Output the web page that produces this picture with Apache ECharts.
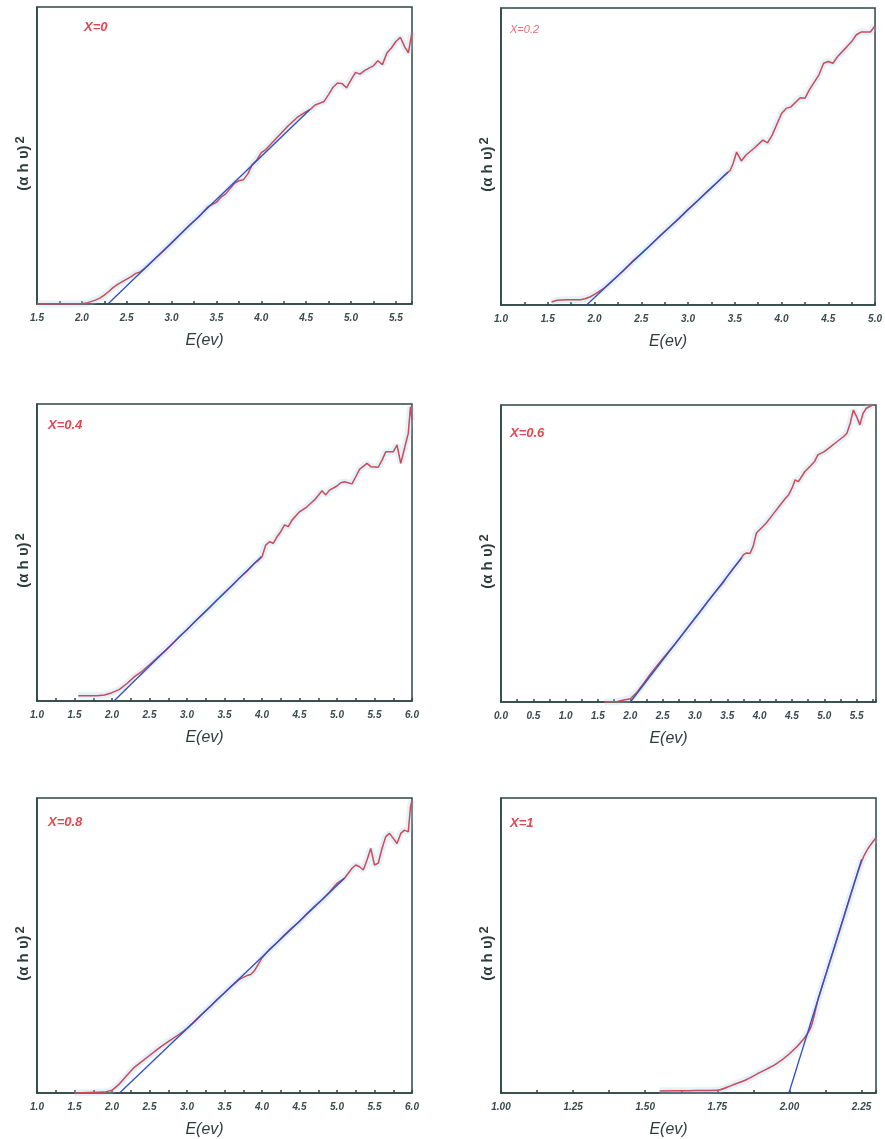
<!DOCTYPE html>
<html>
<head>
<meta charset="utf-8">
<script src="https://cdn.jsdelivr.net/npm/echarts@6/dist/echarts.min.js"></script>
<style>
  html, body { margin: 0; padding: 0; background: #fff; }
  #chart { width: 885px; height: 1139px; }
</style>
</head>
<body>
<div id="chart"></div>
<script>
// panel labels
const panelNames = ['X=0', 'X=0.2', 'X=0.4', 'X=0.6', 'X=0.8', 'X=1']
// x axis range and labelled tick step of each panel
const xMin = [1.5, 1.0, 1.0, 0.0, 1.0, 1.0]
const xMax = [5.68, 5.0, 6.0, 5.8, 6.0, 2.3]
const xStep = [0.5, 0.5, 0.5, 0.5, 0.5, 0.25]

// (ahv)^2, arbitrary units (0 = axis, 100 = top of frame)
const curve0 = [[1.5,0],[1.7,0],[1.9,0],[2.0,0.1],[2.05,0.3],[2.1,0.8],[2.15,1.3],[2.2,2.0],[2.25,3.0],[2.3,4.2],[2.35,5.6],[2.4,6.6],[2.45,7.5],[2.5,8.4],[2.55,9.2],[2.6,10.3],[2.65,10.8],[2.7,12.0],[2.8,14.8],[2.9,17.6],[3.0,20.5],[3.1,23.6],[3.2,26.6],[3.3,29.2],[3.4,32.6],[3.45,33.5],[3.5,34.2],[3.55,36.0],[3.6,37.0],[3.65,38.8],[3.7,40.6],[3.75,41.5],[3.8,41.8],[3.85,43.8],[3.9,47.0],[3.95,48.5],[4.0,51.0],[4.05,52.0],[4.1,53.6],[4.2,56.8],[4.3,60.0],[4.4,62.8],[4.5,64.8],[4.55,65.6],[4.6,67.0],[4.7,68.2],[4.75,70.5],[4.8,73.0],[4.85,74.4],[4.9,74.2],[4.95,72.8],[5.0,75.5],[5.05,78.0],[5.1,77.4],[5.15,78.6],[5.2,79.4],[5.25,80.2],[5.3,81.9],[5.35,80.6],[5.4,84.5],[5.45,86.2],[5.5,88.4],[5.55,89.8],[5.6,86.5],[5.64,84.6],[5.68,91.5]]
const curve1 = [[1.54,1.0],[1.6,1.6],[1.7,1.8],[1.85,1.8],[1.9,2.1],[1.95,2.7],[2.0,3.6],[2.1,5.6],[2.2,8.4],[2.3,11.3],[2.4,14.5],[2.5,17.3],[2.6,20.2],[2.7,23.3],[2.8,26.2],[2.9,29.0],[3.0,32.2],[3.1,35.0],[3.2,38.1],[3.3,41.0],[3.4,44.0],[3.45,45.3],[3.48,47.5],[3.52,51.5],[3.57,48.5],[3.62,50.5],[3.7,52.6],[3.8,55.5],[3.85,54.6],[3.9,57.2],[4.0,64.5],[4.05,66.2],[4.1,66.7],[4.2,69.8],[4.25,69.6],[4.3,72.6],[4.4,77.5],[4.45,81.4],[4.5,82.0],[4.55,81.4],[4.6,83.7],[4.7,87.0],[4.75,88.7],[4.8,91.0],[4.85,91.9],[4.95,91.9],[5.0,94.0]]
const curve2 = [[1.55,1.8],[1.8,1.8],[1.9,2.0],[2.0,2.8],[2.1,3.9],[2.2,5.9],[2.3,8.2],[2.4,10.0],[2.5,12.2],[2.6,14.5],[2.7,16.7],[2.8,19.1],[2.9,21.7],[3.0,24.0],[3.1,26.6],[3.2,29.0],[3.3,31.4],[3.4,34.0],[3.5,36.4],[3.6,38.8],[3.7,41.4],[3.8,43.7],[3.9,46.4],[3.95,47.3],[4.0,48.6],[4.05,52.5],[4.1,53.6],[4.15,53.1],[4.2,55.3],[4.25,57.0],[4.3,59.3],[4.35,58.7],[4.4,60.9],[4.5,63.7],[4.6,65.4],[4.65,66.6],[4.7,67.7],[4.8,70.8],[4.85,69.4],[4.9,71.0],[5.0,72.4],[5.05,73.5],[5.1,73.8],[5.2,73.1],[5.25,75.5],[5.3,78.0],[5.4,80.0],[5.45,78.9],[5.55,78.7],[5.6,81.1],[5.65,83.9],[5.75,83.9],[5.8,86.2],[5.85,80.0],[5.9,85.1],[5.95,90.1],[5.98,99.1],[6.0,94.6]]
const curve3 = [[1.6,0],[1.8,0.2],[1.9,0.7],[2.0,1.1],[2.1,3.2],[2.2,6.1],[2.3,9.1],[2.4,11.9],[2.5,14.6],[2.6,17.2],[2.7,19.8],[2.8,22.6],[2.9,25.4],[3.0,28.2],[3.1,31.0],[3.2,33.9],[3.3,36.6],[3.4,39.2],[3.45,40.6],[3.5,42.3],[3.6,45.2],[3.7,47.9],[3.75,49.6],[3.8,50.2],[3.85,50.0],[3.9,52.4],[3.95,56.9],[4.0,58.0],[4.1,60.2],[4.2,63.0],[4.3,65.8],[4.4,68.6],[4.45,69.8],[4.5,72.0],[4.55,74.8],[4.6,74.2],[4.7,77.6],[4.8,79.8],[4.85,81.0],[4.9,83.2],[5.0,84.3],[5.1,86.0],[5.2,87.7],[5.3,89.4],[5.35,90.5],[5.4,93.8],[5.45,98.3],[5.5,96.1],[5.55,93.3],[5.6,97.2],[5.65,98.9],[5.75,100]]
const curve4 = [[1.5,0],[1.9,0.3],[2.0,0.9],[2.1,3.1],[2.2,6.0],[2.3,8.8],[2.4,10.7],[2.5,12.7],[2.6,14.7],[2.7,16.6],[2.8,18.3],[2.9,20.0],[2.95,20.9],[3.0,21.9],[3.1,24.2],[3.2,26.8],[3.3,29.1],[3.4,31.7],[3.5,34.0],[3.6,36.4],[3.7,38.5],[3.75,39.2],[3.8,39.8],[3.85,40.2],[3.9,41.5],[3.95,43.6],[4.0,45.8],[4.1,48.7],[4.2,51.0],[4.3,53.6],[4.4,56.0],[4.5,58.2],[4.6,60.8],[4.7,63.3],[4.8,65.5],[4.9,68.1],[5.0,71.1],[5.1,72.8],[5.2,76.2],[5.25,77.3],[5.3,76.7],[5.35,75.6],[5.4,79.0],[5.45,82.9],[5.5,77.3],[5.55,77.9],[5.6,82.9],[5.65,86.9],[5.7,88.0],[5.75,86.3],[5.8,84.6],[5.85,88.0],[5.9,89.1],[5.95,88.5],[5.98,97.0],[6.0,99.2]]
const curve5 = [[1.55,0.7],[1.65,0.8],[1.75,0.9],[1.8,2.6],[1.85,4.5],[1.9,7.1],[1.95,9.6],[2.0,13.3],[2.05,18.4],[2.075,22.5],[2.1,32.0],[2.15,47.5],[2.2,63.2],[2.22,69.5],[2.25,78.5],[2.27,82.5],[2.3,86.5]]

// linear fits drawn in blue
const fit0 = [[2.29,0],[4.54,65.4]]
const fit1 = [[1.915,0],[3.43,44.8]]
const fit2 = [[2.026,0],[3.99,48.6]]
const fit3 = [[2.0,0],[3.72,48.5]]
const fit4 = [[2.1,0],[5.1,72.8]]
const fit5 = [[1.998,0],[2.25,79.2]]

const curves = [curve0, curve1, curve2, curve3, curve4, curve5]
const fits = [fit0, fit1, fit2, fit3, fit4, fit5]

// layout of the six frames (px)
const lefts = [37, 501, 37, 501, 37, 501]
const tops = [7, 8, 404, 405, 798, 798]
const frameW = 375
const frameH = 297
// panel label offsets inside the frame
const tagDx = [42, 4, 6, 4, 6, 4]
const tagDy = [9, 11, 10, 17, 13, 14]

const frameColor = '#2f4646'
const labelColor = '#3a4949'
const redColor = '#cf4a52'
const blueColor = '#2b4ec8'

const grids = [], xAxes = [], yAxes = [], series = [], titles = []
for (let i = 0; i < 6; i++) {
  grids.push({
    left: lefts[i], top: tops[i], width: frameW, height: frameH,
    show: true, borderColor: frameColor, borderWidth: 1.5, containLabel: false
  })
  xAxes.push({
    type: 'value', gridIndex: i, min: xMin[i], max: xMax[i], interval: xStep[i],
    name: 'E(ev)', nameLocation: 'middle', nameGap: 29,
    nameTextStyle: { fontFamily: 'Liberation Sans', fontStyle: 'italic', fontSize: 16, color: '#2f3b3b', padding: [0, 40, 0, 0] },
    axisLine: { show: true, lineStyle: { color: frameColor, width: 1.5 } },
    axisTick: { show: true, inside: true, length: 3, lineStyle: { color: frameColor, width: 1.5 } },
    minorTick: { show: true, splitNumber: 2, length: 3, lineStyle: { color: frameColor, width: 1.5 } },
    splitLine: { show: false },
    axisLabel: {
      margin: 9, fontFamily: 'Liberation Sans', fontStyle: 'italic', fontWeight: 'bold', fontSize: 10,
      color: labelColor, showMaxLabel: (i === 0 || i === 3 || i === 5) ? false : true,
      formatter: v => v.toFixed(i === 5 ? 2 : 1)
    }
  })
  yAxes.push({
    type: 'value', gridIndex: i, min: 0, max: 100,
    name: '{b|(α h υ)}{s|2}', nameLocation: 'middle', nameGap: 3, nameRotate: 90,
    nameTextStyle: {
      color: '#2f3b3b', padding: [0, 16, 0, 0],
      rich: {
        b: { fontFamily: 'Liberation Sans', fontSize: 15, fontWeight: 'bold', lineHeight: 20, color: '#2f3b3b' },
        s: { fontFamily: 'Liberation Sans', fontSize: 13, fontWeight: 'bold', lineHeight: 20, verticalAlign: 'top', color: '#2f3b3b', padding: [0, 0, 6, 2] }
      }
    },
    axisLine: { show: true, lineStyle: { color: frameColor, width: 1.5 } },
    axisTick: { show: false }, axisLabel: { show: false }, splitLine: { show: false }
  })
  titles.push({
    text: panelNames[i], left: lefts[i] + tagDx[i], top: tops[i] + tagDy[i],
    textStyle: {
      fontFamily: 'Liberation Sans', fontStyle: 'italic', fontWeight: i === 1 ? 'normal' : 'bold',
      fontSize: i === 1 ? 11 : 13, color: i === 1 ? '#e0707a' : '#e0474f'
    }
  })
  // faint halo around the measured curve
  series.push({
    type: 'line', xAxisIndex: i, yAxisIndex: i, data: curves[i], showSymbol: false, silent: true,
    smooth: i === 5 ? 0.3 : false,
    lineStyle: { color: 'rgba(160,205,240,0.28)', width: 7 }, z: 1
  })
  series.push({
    type: 'line', xAxisIndex: i, yAxisIndex: i, data: curves[i], showSymbol: false,
    smooth: i === 5 ? 0.3 : false,
    lineStyle: { color: redColor, width: 1.5 }, z: 2
  })
  series.push({
    type: 'line', xAxisIndex: i, yAxisIndex: i, data: fits[i], showSymbol: false,
    lineStyle: { color: blueColor, width: 1.3 }, z: 3
  })
}

const myChart = echarts.init(document.getElementById('chart'))
myChart.setOption({
  backgroundColor: '#fff',
  animation: false,
  title: titles,
  grid: grids,
  xAxis: xAxes,
  yAxis: yAxes,
  series: series
})
</script>
</body>
</html>
